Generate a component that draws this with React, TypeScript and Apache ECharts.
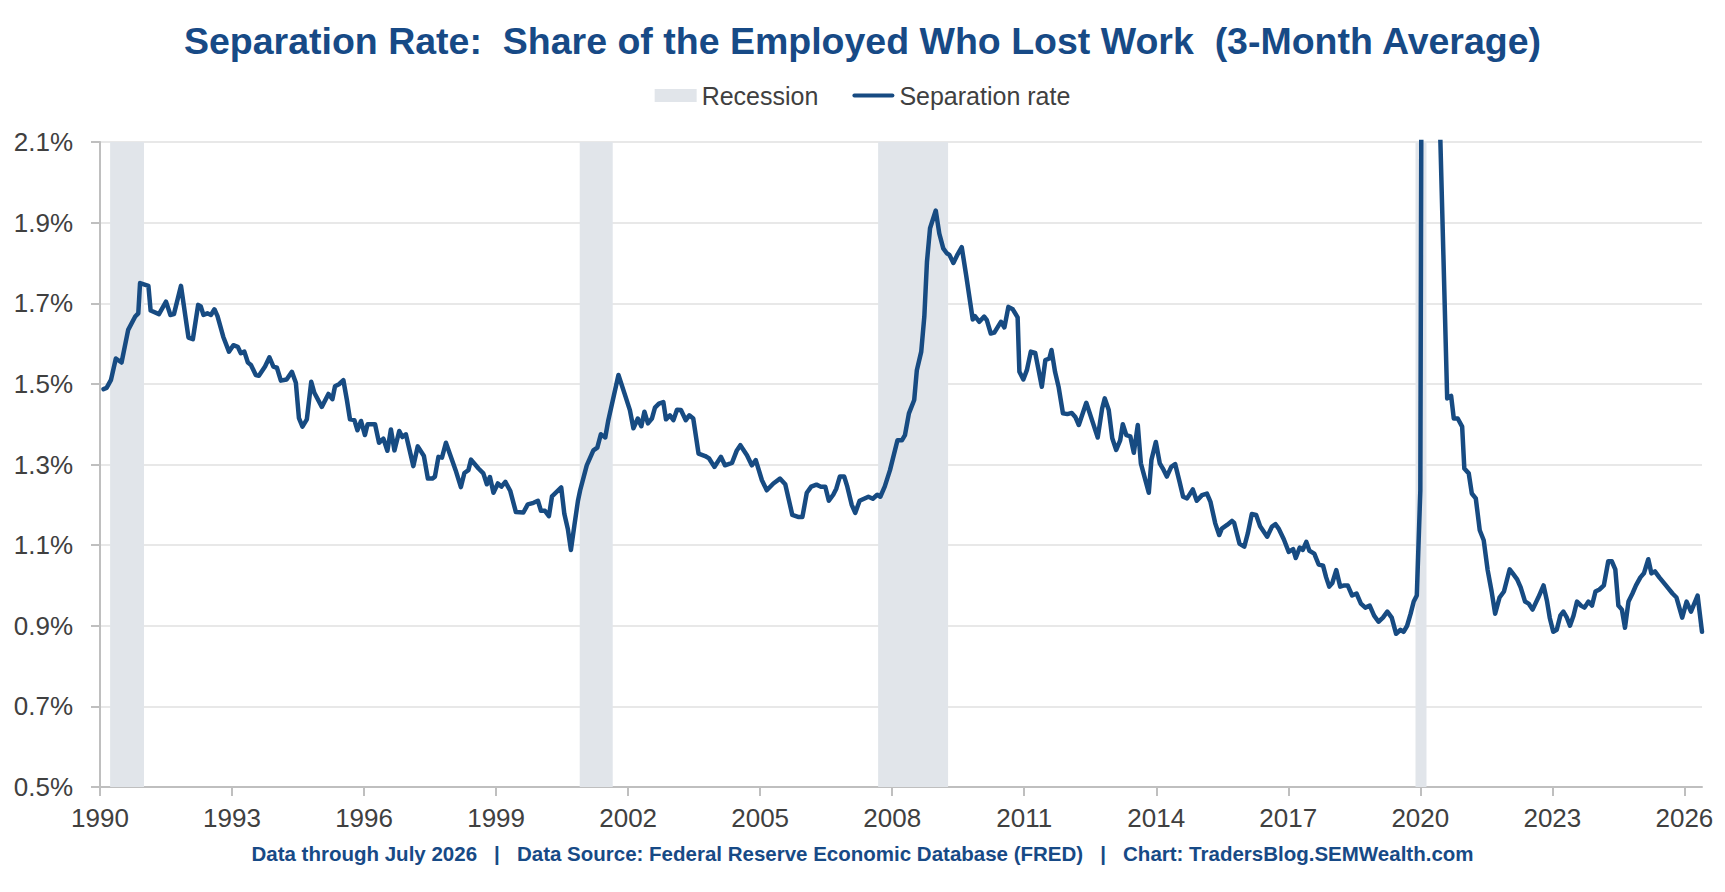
// Separation rate chart (3-month average), 1990 - 2026
import * as echarts from 'echarts'
import { useEffect, useRef } from 'react'

const BASE_YEAR = 1990
const BASE_RATE = 0.5 // bottom of the y axis; values are shifted so ticks start at 0

const dates = [
  1990.08, 1990.15, 1990.25, 1990.36, 1990.49, 1990.64, 1990.8, 1990.87, 1990.91, 1991.1,
  1991.15, 1991.34, 1991.5, 1991.6, 1991.68, 1991.84, 1992.01, 1992.11, 1992.23, 1992.29,
  1992.35, 1992.44, 1992.52, 1992.6, 1992.67, 1992.8, 1992.93, 1993.03, 1993.13, 1993.2,
  1993.28, 1993.36, 1993.43, 1993.54, 1993.61, 1993.75, 1993.85, 1993.94, 1994.02, 1994.11,
  1994.24, 1994.36, 1994.45, 1994.52, 1994.6, 1994.7, 1994.8, 1994.87, 1995.04, 1995.19,
  1995.28, 1995.34, 1995.43, 1995.53, 1995.61, 1995.68, 1995.78, 1995.85, 1995.93, 1996.02,
  1996.08, 1996.25, 1996.34, 1996.44, 1996.53, 1996.61, 1996.69, 1996.8, 1996.87, 1996.95,
  1997.12, 1997.22, 1997.36, 1997.45, 1997.55, 1997.61, 1997.69, 1997.77, 1997.86, 1997.96,
  1998.08, 1998.2, 1998.28, 1998.37, 1998.43, 1998.6, 1998.71, 1998.79, 1998.86, 1998.94,
  1999.04, 1999.12, 1999.21, 1999.32, 1999.45, 1999.62, 1999.72, 1999.85, 1999.95, 2000.02,
  2000.11, 2000.2, 2000.27, 2000.48, 2000.55, 2000.63, 2000.7, 2000.78, 2000.86, 2000.91,
  2001.06, 2001.21, 2001.3, 2001.38, 2001.48, 2001.55, 2001.78, 2001.93, 2002.04, 2002.12,
  2002.22, 2002.3, 2002.37, 2002.45, 2002.54, 2002.61, 2002.7, 2002.8, 2002.86, 2002.95,
  2003.03, 2003.11, 2003.2, 2003.31, 2003.39, 2003.48, 2003.6, 2003.75, 2003.84, 2003.96,
  2004.11, 2004.2, 2004.36, 2004.47, 2004.55, 2004.7, 2004.81, 2004.9, 2005.04, 2005.15,
  2005.3, 2005.45, 2005.57, 2005.73, 2005.86, 2005.96, 2006.06, 2006.16, 2006.28, 2006.38,
  2006.48, 2006.56, 2006.66, 2006.73, 2006.81, 2006.91, 2006.98, 2007.08, 2007.16, 2007.26,
  2007.36, 2007.46, 2007.56, 2007.66, 2007.73, 2007.83, 2007.95, 2008.12, 2008.22, 2008.29,
  2008.38, 2008.5, 2008.56, 2008.66, 2008.73, 2008.79, 2008.86, 2008.99, 2009.07, 2009.16,
  2009.24, 2009.3, 2009.39, 2009.49, 2009.58, 2009.68, 2009.83, 2009.88, 2009.98, 2010.09,
  2010.15, 2010.24, 2010.32, 2010.47, 2010.55, 2010.64, 2010.74, 2010.85, 2010.89, 2010.98,
  2011.06, 2011.15, 2011.25, 2011.4, 2011.48, 2011.57, 2011.62, 2011.7, 2011.78, 2011.88,
  2011.98, 2012.08, 2012.16, 2012.24, 2012.41, 2012.54, 2012.67, 2012.77, 2012.83, 2012.92,
  2013.0, 2013.09, 2013.18, 2013.24, 2013.32, 2013.41, 2013.49, 2013.58, 2013.65, 2013.83,
  2013.89, 2013.99, 2014.08, 2014.15, 2014.24, 2014.34, 2014.43, 2014.53, 2014.61, 2014.7,
  2014.83, 2014.92, 2015.04, 2015.15, 2015.23, 2015.34, 2015.43, 2015.49, 2015.61, 2015.72,
  2015.77, 2015.89, 2016.0, 2016.08, 2016.17, 2016.27, 2016.36, 2016.52, 2016.63, 2016.71,
  2016.78, 2016.9, 2017.01, 2017.11, 2017.17, 2017.26, 2017.33, 2017.41, 2017.48, 2017.59,
  2017.69, 2017.79, 2017.86, 2017.93, 2018.0, 2018.09, 2018.18, 2018.27, 2018.35, 2018.45,
  2018.55, 2018.65, 2018.75, 2018.85, 2018.95, 2019.05, 2019.15, 2019.25, 2019.35, 2019.45,
  2019.55, 2019.62, 2019.7, 2019.78, 2019.85, 2019.92, 2020.0, 2020.08, 2020.17, 2020.25,
  2020.33, 2020.42, 2020.61, 2020.7, 2020.76, 2020.85, 2020.95, 2021.0, 2021.1, 2021.17,
  2021.26, 2021.35, 2021.44, 2021.53, 2021.62, 2021.7, 2021.8, 2021.9, 2022.03, 2022.1,
  2022.2, 2022.28, 2022.38, 2022.46, 2022.55, 2022.68, 2022.8, 2022.88, 2022.94, 2023.02,
  2023.1, 2023.18, 2023.25, 2023.33, 2023.4, 2023.48, 2023.56, 2023.65, 2023.73, 2023.82,
  2023.9, 2023.98, 2024.07, 2024.17, 2024.27, 2024.35, 2024.43, 2024.5, 2024.58, 2024.65,
  2024.73, 2024.82, 2024.9, 2025.0, 2025.08, 2025.18, 2025.25, 2025.33, 2025.43, 2025.58,
  2025.73, 2025.82, 2025.95, 2026.05, 2026.15, 2026.3, 2026.4,
]

const rates = [
  1.487, 1.49, 1.51, 1.563, 1.553, 1.634, 1.667, 1.675, 1.75, 1.743,
  1.682, 1.673, 1.704, 1.671, 1.673, 1.743, 1.615, 1.611, 1.696, 1.692,
  1.671, 1.675, 1.671, 1.685, 1.668, 1.617, 1.58, 1.596, 1.592, 1.576,
  1.58, 1.553, 1.547, 1.522, 1.52, 1.543, 1.566, 1.543, 1.54, 1.508,
  1.511, 1.53, 1.503, 1.415, 1.394, 1.412, 1.505, 1.478, 1.443, 1.475,
  1.462, 1.494, 1.499, 1.509, 1.46, 1.412, 1.41, 1.385, 1.408, 1.373,
  1.4, 1.4, 1.354, 1.364, 1.334, 1.387, 1.335, 1.383, 1.368, 1.375,
  1.296, 1.345, 1.321, 1.265, 1.265, 1.27, 1.319, 1.317, 1.354, 1.323,
  1.286, 1.244, 1.279, 1.286, 1.312, 1.29, 1.278, 1.251, 1.269, 1.23,
  1.253, 1.245, 1.257, 1.235, 1.182, 1.181, 1.201, 1.205, 1.21, 1.185,
  1.185, 1.172, 1.221, 1.243, 1.178, 1.14, 1.088, 1.15, 1.21, 1.236,
  1.298, 1.335, 1.342, 1.375, 1.367, 1.41, 1.522, 1.472, 1.435, 1.39,
  1.414, 1.395, 1.431, 1.402, 1.414, 1.441, 1.451, 1.455, 1.412, 1.422,
  1.41, 1.436, 1.435, 1.41, 1.422, 1.414, 1.327, 1.321, 1.315, 1.294,
  1.319, 1.298, 1.304, 1.335, 1.348, 1.323, 1.298, 1.311, 1.261, 1.236,
  1.253, 1.265, 1.251, 1.175, 1.17, 1.17, 1.23, 1.245, 1.25, 1.245,
  1.245, 1.21, 1.225, 1.24, 1.27, 1.27, 1.245, 1.2, 1.18, 1.21,
  1.215, 1.22, 1.215, 1.225, 1.22, 1.245, 1.286, 1.36, 1.36, 1.373,
  1.427, 1.46, 1.534, 1.58, 1.667, 1.803, 1.886, 1.93, 1.873, 1.836,
  1.824, 1.82, 1.8, 1.822, 1.839, 1.77, 1.66, 1.668, 1.654, 1.667,
  1.658, 1.625, 1.627, 1.654, 1.64, 1.691, 1.685, 1.665, 1.53, 1.511,
  1.534, 1.58, 1.577, 1.493, 1.559, 1.563, 1.584, 1.53, 1.493, 1.427,
  1.425, 1.428, 1.418, 1.398, 1.453, 1.41, 1.367, 1.439, 1.464, 1.435,
  1.365, 1.336, 1.36, 1.4, 1.373, 1.37, 1.329, 1.398, 1.303, 1.23,
  1.311, 1.356, 1.303, 1.29, 1.27, 1.294, 1.301, 1.257, 1.22, 1.216,
  1.238, 1.21, 1.224, 1.228, 1.208, 1.154, 1.125, 1.141, 1.15, 1.16,
  1.155, 1.104, 1.096, 1.129, 1.177, 1.175, 1.147, 1.121, 1.146, 1.152,
  1.141, 1.114, 1.083, 1.09, 1.068, 1.094, 1.088, 1.108, 1.086, 1.079,
  1.052, 1.049, 1.02, 0.997, 1.006, 1.038, 0.997, 1.0, 1.0, 0.975,
  0.98, 0.955, 0.945, 0.95, 0.925, 0.91, 0.92, 0.935, 0.92, 0.88,
  0.89, 0.885, 0.9, 0.93, 0.96, 0.975, 1.236, 4.5, 5.5, 4.8,
  3.5, 2.25, 1.464, 1.47, 1.414, 1.414, 1.394, 1.29, 1.278, 1.228,
  1.216, 1.137, 1.112, 1.038, 0.985, 0.93, 0.97, 0.985, 1.04, 1.03,
  1.015, 0.995, 0.96, 0.955, 0.94, 0.97, 1.0, 0.96, 0.92, 0.885,
  0.89, 0.925, 0.935, 0.92, 0.9, 0.925, 0.96, 0.95, 0.945, 0.96,
  0.95, 0.985, 0.99, 1.0, 1.06, 1.06, 1.04, 0.95, 0.94, 0.895,
  0.96, 0.98, 1.0, 1.02, 1.03, 1.065, 1.03, 1.035, 1.02, 1.0,
  0.98, 0.97, 0.92, 0.96, 0.935, 0.975, 0.885,
]

const recessionStart = [1990.23, 2000.9, 2007.68, 2019.89]
const recessionEnd = [1991.0, 2001.65, 2009.27, 2020.14]

const TITLE = 'Separation Rate:  Share of the Employed Who Lost Work  (3-Month Average)'
const FOOTER =
  'Data through July 2026   |   Data Source: Federal Reserve Economic Database (FRED)   |   Chart: TradersBlog.SEMWealth.com'

const FONT = 'Arial, "Liberation Sans", Helvetica, sans-serif'
const BLUE = '#174a86'
const LINE_BLUE = '#174b82'
const GRAY = '#e1e5ea'
const AXIS_GRAY = '#bfbfbf'
const LABEL = '#404040'

// thin bar with round ends, used as the legend mark of the line
const LINE_ICON = 'path://M2,0 H40 A2,2 0 0 1 40,4 H2 A2,2 0 0 1 2,0 Z'

const App = () => {
  const chartRef = useRef<HTMLDivElement | null>(null)

  useEffect(() => {
    if (!chartRef.current) return
    const myChart = echarts.init(chartRef.current, null, { renderer: 'svg' })

    const option = {
      animation: false,
      title: [
        {
          text: TITLE,
          left: 'center',
          top: 22,
          padding: 0,
          textStyle: { fontSize: 37.5, fontWeight: 'bold', color: BLUE, fontFamily: FONT },
        },
        {
          text: FOOTER,
          left: 'center',
          top: 843,
          padding: 0,
          textStyle: { fontSize: 20.5, fontWeight: 'bold', color: BLUE, fontFamily: FONT },
        },
      ],
      legend: {
        top: 78,
        left: 'center',
        itemGap: 34,
        itemWidth: 42,
        itemHeight: 13,
        textStyle: { fontSize: 25, color: LABEL, fontFamily: FONT },
        data: [
          { name: 'Recession', icon: 'rect' },
          { name: 'Separation rate', icon: LINE_ICON },
        ],
      },
      grid: { left: 100, right: 23, top: 142, bottom: 105 },
      xAxis: {
        type: 'value',
        min: 0,
        max: 36.4,
        interval: 3,
        axisLine: { lineStyle: { color: AXIS_GRAY, width: 2 } },
        axisTick: { length: 9, lineStyle: { color: AXIS_GRAY, width: 2 } },
        axisLabel: {
          margin: 18,
          fontSize: 26,
          color: LABEL,
          fontFamily: FONT,
          showMaxLabel: false,
          formatter: (v: number) => (Math.abs(v % 3) < 1e-6 ? String(BASE_YEAR + v) : ''),
        },
        splitLine: { show: false },
      },
      yAxis: {
        type: 'value',
        min: 0,
        max: 1.6,
        interval: 0.2,
        axisLine: { show: true, lineStyle: { color: AXIS_GRAY, width: 2 } },
        axisTick: { show: true, length: 9, lineStyle: { color: AXIS_GRAY, width: 2 } },
        axisLabel: {
          margin: 27,
          fontSize: 26,
          color: LABEL,
          fontFamily: FONT,
          formatter: (v: number) => (v + BASE_RATE).toFixed(1) + '%',
        },
        splitLine: { lineStyle: { color: '#e8e8e8', width: 2 } },
      },
      series: [
        {
          name: 'Recession',
          type: 'line',
          data: [],
          color: GRAY,
          itemStyle: { color: GRAY },
          markArea: {
            silent: true,
            itemStyle: { color: GRAY },
            data: recessionStart.map((s, i) => [
              { xAxis: s - BASE_YEAR },
              { xAxis: recessionEnd[i] - BASE_YEAR },
            ]),
          },
        },
        {
          name: 'Separation rate',
          type: 'line',
          data: dates.map((d, i) => [d - BASE_YEAR, rates[i] - BASE_RATE]),
          symbol: 'none',
          showSymbol: false,
          color: LINE_BLUE,
          lineStyle: { width: 4.5, color: LINE_BLUE, join: 'round', cap: 'round' },
          clip: true,
          z: 3,
        },
      ],
    }

    myChart.setOption(option)
    return () => {
      myChart.dispose()
    }
  }, [])

  return (
    <div
      ref={chartRef}
      style={{ position: 'fixed', left: 0, top: 0, width: '1725px', height: '892px', background: '#fff' }}
    ></div>
  )
}

export default App
